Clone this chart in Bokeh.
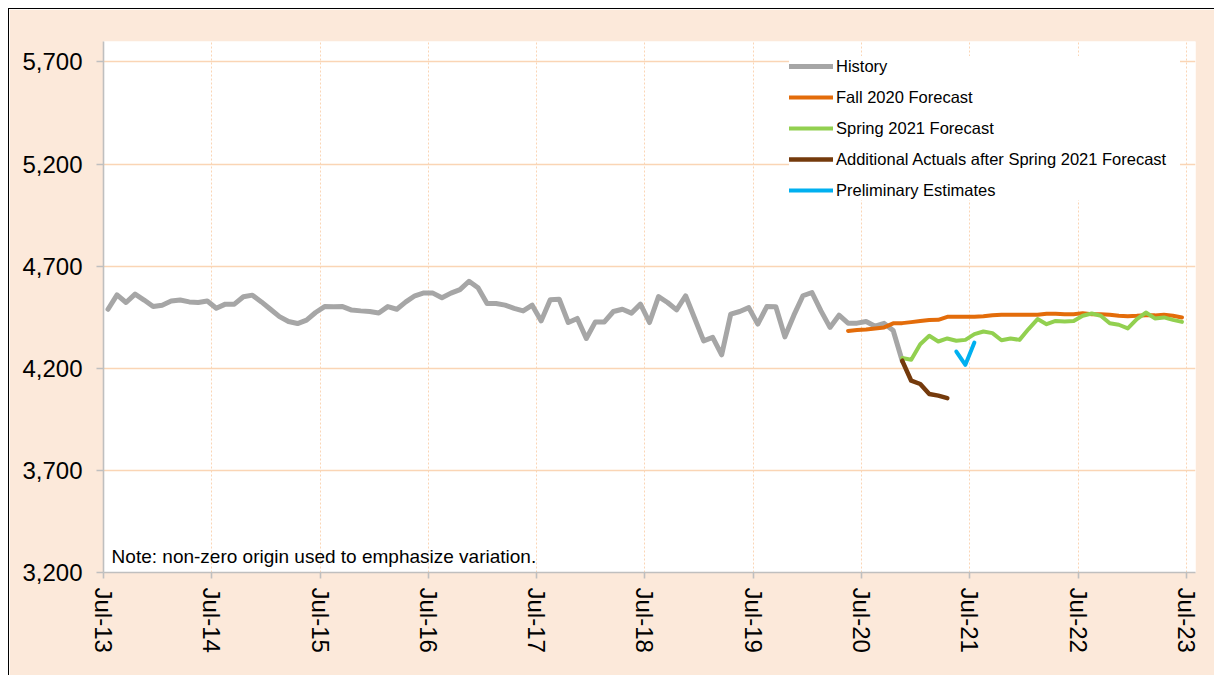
from bokeh.plotting import figure
from bokeh.models import (Range1d, FixedTicker, NumeralTickFormatter, Legend,
                          LegendItem, Label, ColumnDataSource)
from bokeh.embed import file_html
from bokeh.resources import INLINE

# ---------------- data ----------------
x_tick_labels = ["Jul-13", "Jul-14", "Jul-15", "Jul-16", "Jul-17", "Jul-18",
                 "Jul-19", "Jul-20", "Jul-21", "Jul-22", "Jul-23"]
y_ticks = [3200, 3700, 4200, 4700, 5200, 5700]

# months counted from Jul-13
history_start = 0
history = [4489, 4559, 4522, 4563, 4534, 4502, 4509, 4529, 4534, 4525, 4522, 4529,
           4494, 4514, 4514, 4550, 4558, 4525, 4489, 4453, 4429, 4419, 4436, 4473,
           4502, 4501, 4502, 4485, 4481, 4478, 4471, 4502, 4489, 4525, 4555, 4569,
           4568, 4545, 4568, 4585, 4626, 4594, 4517, 4517, 4509, 4493, 4481, 4509,
           4432, 4535, 4538, 4424, 4444, 4346, 4427, 4427, 4478, 4489, 4470, 4514,
           4424, 4551, 4522, 4486, 4555, 4445, 4334, 4351, 4266, 4465, 4478, 4497,
           4416, 4502, 4501, 4354, 4460, 4555, 4571, 4481, 4400, 4460, 4421, 4421,
           4429, 4406, 4420, 4385, 4237]

fall2020_start = 82
fall2020 = [4383, 4387, 4390, 4395, 4400, 4420, 4421, 4426, 4431, 4436, 4437, 4452,
            4452, 4452, 4452, 4455, 4460, 4462, 4462, 4462, 4462, 4462, 4467, 4467,
            4465, 4465, 4470, 4465, 4465, 4462, 4457, 4455, 4457, 4460, 4459, 4462,
            4457, 4449]

spring2021_start = 88
spring2021 = [4250, 4242, 4318, 4359, 4331, 4346, 4335, 4339, 4367, 4380, 4372, 4337,
              4346, 4339, 4392, 4441, 4416, 4432, 4429, 4432, 4457, 4468, 4457, 4420,
              4413, 4395, 4441, 4473, 4444, 4449, 4437, 4427]

additional_start = 88
additional = [4237, 4139, 4123, 4074, 4066, 4054]

prelim_start = 94
prelim = [4282, 4217, 4326]

series = [
    ("History", history_start, history, "#A6A6A6", 5),
    ("Fall 2020 Forecast", fall2020_start, fall2020, "#E36C0A", 4),
    ("Spring 2021 Forecast", spring2021_start, spring2021, "#92D050", 4),
    ("Additional Actuals after Spring 2021 Forecast", additional_start, additional, "#743A0C", 4.5),
    ("Preliminary Estimates", prelim_start, prelim, "#00B0F0", 4),
]

FONT = "Liberation Sans"
PEACH = "#FCE9DA"
GRID = "#FAD5B5"

p = figure(width=1206, height=667, output_backend="svg", toolbar_location=None,
           x_range=Range1d(0, 121), y_range=Range1d(3200, 5800),
           min_border_left=94, min_border_top=32, min_border_bottom=104,
           min_border_right=20)
p.margin = (8, 0, 0, 8)
p.styles = {"border-left": "1px solid black", "border-top": "1px solid black"}
p.background_fill_color = "white"
p.border_fill_color = PEACH
p.outline_line_color = None

# axes
p.xaxis.ticker = FixedTicker(ticks=[12 * i for i in range(len(x_tick_labels))])
p.xaxis.major_label_overrides = {12 * i: lab for i, lab in enumerate(x_tick_labels)}
p.xaxis.major_label_orientation = "vertical"
p.yaxis.ticker = FixedTicker(ticks=y_ticks)
p.yaxis.formatter = NumeralTickFormatter(format="0,0")
for ax in (p.xaxis, p.yaxis):
    ax.axis_line_color = "#BFBFBF"
    ax.axis_line_width = 1.6
    ax.major_tick_line_color = "#BFBFBF"
    ax.major_tick_line_width = 1.6
    ax.major_tick_in = 0
    ax.minor_tick_line_color = None
    ax.major_label_text_font = FONT
    ax.major_label_text_font_size = "24px"
    ax.major_label_text_color = "black"
p.yaxis.major_tick_out = 7
p.yaxis.major_label_standoff = 14
p.xaxis.major_tick_out = 6
p.xaxis.major_label_standoff = 9

# grids
p.ygrid.grid_line_color = GRID
p.ygrid.grid_line_width = 1.6
p.xgrid.grid_line_color = GRID
p.xgrid.grid_line_width = 1
p.xgrid.grid_line_dash = "2 2"

items = []
for name, start, vals, color, lw in series:
    xs = [start + i + 0.5 for i in range(len(vals))]
    src = ColumnDataSource(data=dict(x=xs, y=vals))
    r = p.line("x", "y", source=src, line_color=color, line_width=lw,
               line_join="round", line_cap="round")
    items.append(LegendItem(label=name, renderers=[r]))

legend = Legend(items=items, location="top_right", margin=15, padding=4,
                spacing=11, glyph_width=44, glyph_height=20, label_height=20,
                label_width=344, label_standoff=3, border_line_color=None,
                background_fill_color="white", background_fill_alpha=1,
                label_text_font=FONT, label_text_font_size="16.5px",
                label_text_color="black")
p.add_layout(legend)

note = Label(x=0.9, y=3278, text="Note: non-zero origin used to emphasize variation.",
             text_font=FONT, text_font_size="19px", text_color="black",
             text_baseline="alphabetic")
p.add_layout(note)

open("out.html", "w").write(file_html(p, INLINE))
